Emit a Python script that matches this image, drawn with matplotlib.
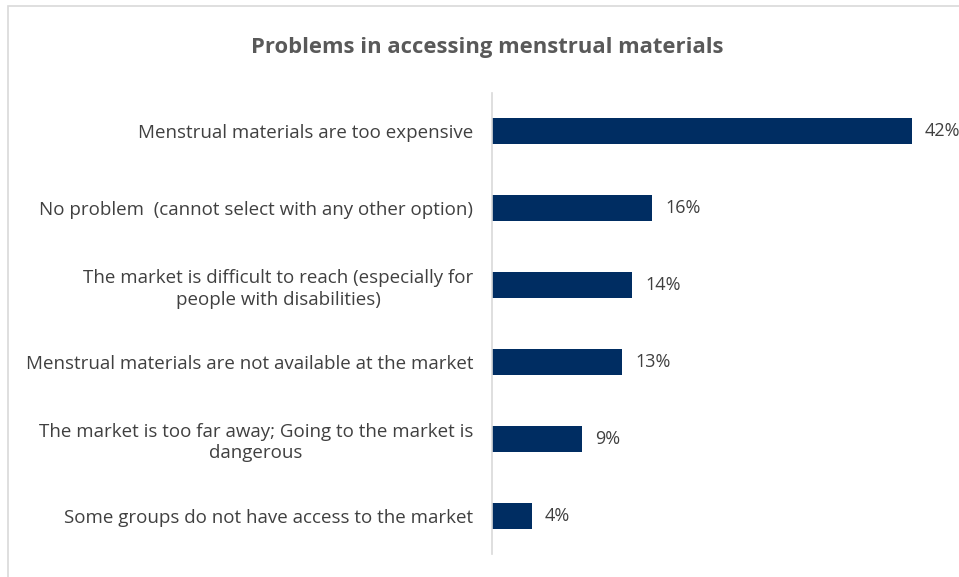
import matplotlib.pyplot as plt
from matplotlib.patches import Rectangle

categories = [
    "Menstrual materials are too expensive",
    "No problem  (cannot select with any other option)",
    "The market is difficult to reach (especially for\npeople with disabilities)",
    "Menstrual materials are not available at the market",
    "The market is too far away; Going to the market is\ndangerous",
    "Some groups do not have access to the market",
]
values = [42, 16, 14, 13, 9, 4]
value_labels = ["42%", "16%", "14%", "13%", "9%", "4%"]

bar_color = "#002D62"
text_color = "#404040"

plt.rcParams["font.family"] = ["Open Sans", "DejaVu Sans"]

fig = plt.figure(figsize=(9.59, 5.77), dpi=100)
# light frame around the chart area
fig.add_artist(Rectangle((8 / 959, -0.01), 1.0, 1 - 6 / 577 + 0.01, transform=fig.transFigure,
                         fill=False, edgecolor="#D9D9D9", linewidth=1.2))

ax = fig.add_axes([492 / 959, 23 / 577, 450 / 959, 461 / 577])
y = list(range(len(categories)))
ax.barh(y, values, height=0.34, color=bar_color)
ax.set_xlim(0, 45)
ax.set_ylim(len(categories) - 0.5, -0.5)

for yi, v, lab in zip(y, values, value_labels):
    ax.text(v + 1.3, yi, lab, va="center", ha="left", fontsize=13, color=text_color)

ax.set_yticks(y)
ax.set_yticklabels(categories, fontsize=13.5, color=text_color, multialignment="center",
                   linespacing=1.25)
ax.tick_params(axis="y", length=0, pad=13.5)
ax.set_xticks([])
for side in ["top", "right", "bottom"]:
    ax.spines[side].set_visible(False)
ax.spines["left"].set_color("#D9D9D9")
ax.spines["left"].set_linewidth(1.2)

fig.text(487 / 959, 1 - 47 / 577, "Problems in accessing menstrual materials", ha="center", va="center",
         fontsize=15.8, fontweight="bold", color="#595959")

fig.savefig("out.png", dpi=100)
